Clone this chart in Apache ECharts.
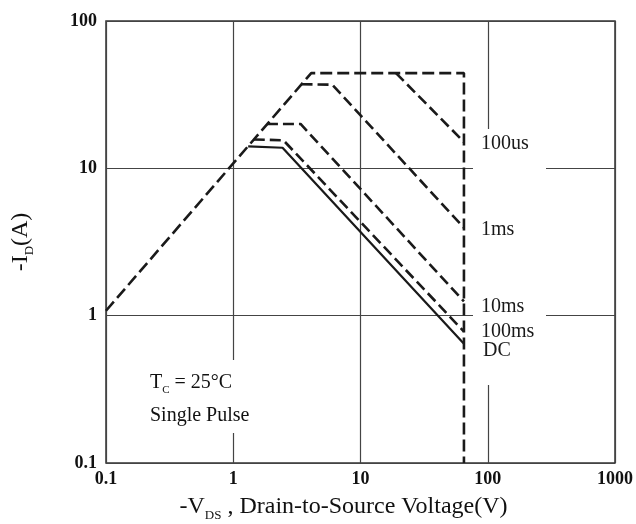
<!DOCTYPE html>
<html><head><meta charset="utf-8">
<script src="https://cdn.jsdelivr.net/npm/echarts@6/dist/echarts.min.js"></script>
<style>html,body{margin:0;padding:0;background:#fff}#c{width:636px;height:524px}</style>
</head><body><div id="c"></div>
<script>
// ---- data ----
const xTicks = ['0.1', '1', '10', '100', '1000'];
const yTicks = ['0.1', '1', '10', '100'];
const limitV = [0.1, 4.1, 65, 65];
const limitI = [1.08, 44.3, 44.3, 0.1];
const us100V = [19, 65];
const us100I = [44.3, 15.1];
const ms1V = [3.44, 6.0, 65];
const ms1I = [37.2, 37, 3.95];
const ms10V = [1.84, 3.38, 65];
const ms10I = [20, 20, 1.25];
const ms100V = [1.45, 2.48, 65];
const ms100I = [15.7, 15.5, 0.78];
const dcV = [1.31, 2.44, 65];
const dcI = [14.1, 13.8, 0.645];
const curveNames = ['100us', '1ms', '10ms', '100ms', 'DC'];

const SERIF = '"Liberation Serif", "Times New Roman", serif';
const INK = '#1a1a1a';
const pair = (v, i) => v.map((x, k) => [x, i[k]]);
const tickFmt = (list) => (val) => {
  for (const t of list) if (Math.abs(Math.log10(val) - Math.log10(parseFloat(t))) < 0.01) return t;
  return '';
};

const chart = echarts.init(document.getElementById('c'), null, {renderer: 'canvas'});

function curve(name, v, i, dashed, labelOffset) {
  return {
    type: 'line', name: name, data: pair(v, i), symbol: 'none', silent: true,
    lineStyle: {color: INK, width: dashed ? 2.6 : 2.2, type: dashed ? [11, 5] : 'solid'},
    endLabel: {
      show: true, formatter: name, color: INK, fontFamily: SERIF, fontSize: 20,
      distance: 0, offset: labelOffset
    },
    z: 3
  };
}

const option = {
  backgroundColor: '#fff',
  animation: false,
  grid: {left: 106, right: 21, top: 21, bottom: 61, show: true, borderColor: '#333', borderWidth: 1.5, outerBoundsMode: 'none'},
  xAxis: {
    type: 'log', logBase: 10, min: 0.1, max: 1000,
    axisLine: {show: false}, axisTick: {show: false},
    splitLine: {show: true, lineStyle: {color: '#444', width: 1.2}},
    minorSplitLine: {show: false},
    axisLabel: {formatter: tickFmt(xTicks), fontFamily: SERIF, fontWeight: 'bold', fontSize: 18, color: '#111', margin: 7},
    name: '{m|-V}{s|DS}{m| , Drain-to-Source Voltage(V)}',
    nameLocation: 'middle', nameGap: 29,
    nameTextStyle: {
      padding: [0, 34, 0, 0],
      rich: {
        m: {fontFamily: SERIF, fontSize: 24, color: '#111', lineHeight: 30, verticalAlign: 'middle'},
        s: {fontFamily: SERIF, fontSize: 13, color: '#111', lineHeight: 30, verticalAlign: 'bottom'}
      }
    }
  },
  yAxis: {
    type: 'log', logBase: 10, min: 0.1, max: 100,
    axisLine: {show: false}, axisTick: {show: false},
    splitLine: {show: true, lineStyle: {color: '#444', width: 1.2}},
    minorSplitLine: {show: false},
    axisLabel: {formatter: tickFmt(yTicks), fontFamily: SERIF, fontWeight: 'bold', fontSize: 18, color: '#111', margin: 9},
    name: '{m|-I}{s|D}{m|(A)}',
    nameLocation: 'middle', nameGap: 70, nameRotate: 90,
    nameTextStyle: {
      rich: {
        m: {fontFamily: SERIF, fontSize: 24, color: '#111', lineHeight: 30, verticalAlign: 'middle'},
        s: {fontFamily: SERIF, fontSize: 13, color: '#111', lineHeight: 30, verticalAlign: 'bottom'}
      }
    }
  },
  graphic: [
    {type: 'rect', shape: {x: 473, y: 129, width: 73, height: 256}, style: {fill: '#fff'}, z: 1, silent: true},
    {type: 'rect', shape: {x: 142, y: 360, width: 116, height: 73}, style: {fill: '#fff'}, z: 1, silent: true},
    {type: 'text', left: 150, top: 373, z: 5, silent: true,
      style: {text: '{m|T}{s|C}{m| = 25°C}', rich: {
        m: {fontFamily: SERIF, fontSize: 20, fill: '#111', lineHeight: 26, verticalAlign: 'middle'},
        s: {fontFamily: SERIF, fontSize: 11, fill: '#111', lineHeight: 26, verticalAlign: 'bottom'}
      }}},
    {type: 'text', left: 150, top: 406, z: 5, silent: true,
      style: {text: 'Single Pulse', fontFamily: SERIF, fontSize: 20, fill: '#111'}}
  ],
  series: [
    {
      type: 'line', name: 'limit', data: pair(limitV, limitI), symbol: 'none', silent: true,
      lineStyle: {color: INK, width: 2.6, type: [12, 5]}, z: 3
    },
    curve(curveNames[0], us100V, us100I, true, [17, 2]),
    curve(curveNames[1], ms1V, ms1I, true, [17, 2]),
    curve(curveNames[2], ms10V, ms10I, true, [17, 5]),
    curve(curveNames[3], ms100V, ms100I, true, [17, 0]),
    curve(curveNames[4], dcV, dcI, false, [19, 7])
  ]
};
chart.setOption(option);
</script>
</body></html>
